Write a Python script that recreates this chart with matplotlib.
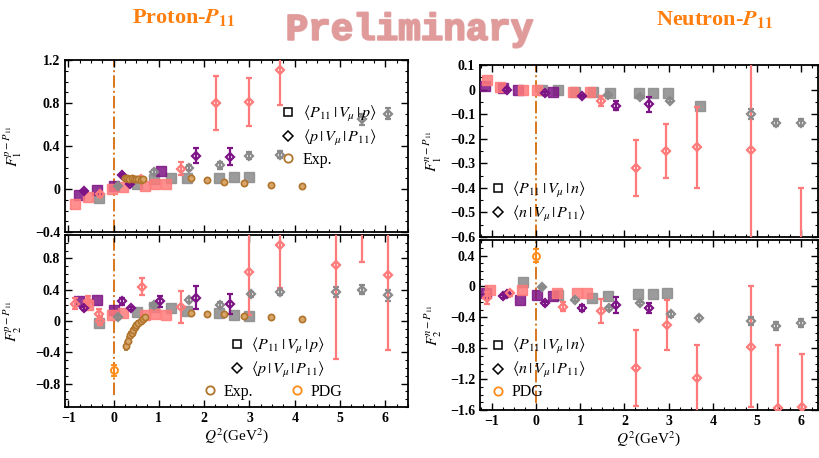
import numpy as np
import matplotlib as mpl
mpl.use('Agg')
import matplotlib.pyplot as plt
from matplotlib.lines import Line2D
from matplotlib.ticker import MultipleLocator
import matplotlib.patheffects as pe

plt.rcParams['font.family'] = ['Liberation Serif', 'DejaVu Serif']
plt.rcParams['mathtext.fontset'] = 'stix'

# ---------------- proton F1 ----------------
pf1_gray_sq_x = [-0.31, 0.52, 0.89, 1.26, 1.63, 2.33, 2.67, 3.0]
pf1_gray_sq_y = [-0.08, 0.05, 0.09, 0.10, 0.10, 0.10, 0.11, 0.11]
pf1_gray_di_x = [0.11, 0.89, 1.67, 2.36, 3.0, 3.67, 5.48, 6.06]
pf1_gray_di_y = [0.03, 0.16, 0.20, 0.22, 0.31, 0.32, 0.65, 0.70]
pf1_gray_di_e = [0.01, 0.02, 0.02, 0.03, 0.03, 0.03, 0.05, 0.05]
pf1_purp_sq_x = [-0.77, -0.37, 0.0, 1.04]
pf1_purp_sq_y = [-0.06, -0.01, 0.03, 0.17]
pf1_purp_di_x = [-0.66, 0.18, 0.37, 1.81, 2.58]
pf1_purp_di_y = [-0.02, 0.13, 0.05, 0.31, 0.30]
pf1_purp_di_e = [0.01, 0.01, 0.01, 0.07, 0.08]
pf1_pink_sq_x = [-0.85, -0.56, -0.03, 0.22, 0.70, 0.92, 1.15]
pf1_pink_sq_y = [-0.14, -0.07, 0.0, 0.02, 0.03, 0.05, 0.05]
pf1_pink_di_x = [-0.29, 0.6, 1.49, 2.27, 2.99, 3.68]
pf1_pink_di_y = [-0.05, 0.09, 0.19, 0.80, 0.81, 1.11]
pf1_pink_di_e = [0.02, 0.02, 0.06, 0.25, 0.22, 0.33]
pf1_exp_x = [0.25, 0.3, 0.35, 0.4, 0.45, 0.5, 0.55, 0.6, 0.65, 1.7, 2.06, 2.43, 2.89, 3.47, 4.15]
pf1_exp_y = [0.1, 0.1, 0.095, 0.1, 0.09, 0.095, 0.09, 0.085, 0.09, 0.1, 0.085, 0.07, 0.055, 0.04, 0.03]

# ---------------- proton F2 ----------------
pf2_gray_sq_x = [-0.31, 0.52, 0.89, 1.26, 1.63, 2.33, 2.67, 3.0]
pf2_gray_sq_y = [-0.02, 0.12, 0.18, 0.16, 0.13, 0.10, 0.08, 0.07]
pf2_gray_di_x = [0.11, 0.89, 1.67, 2.36, 3.03, 3.67, 4.92, 5.48, 6.06]
pf2_gray_di_y = [0.05, 0.20, 0.27, 0.21, 0.34, 0.37, 0.37, 0.40, 0.33]
pf2_gray_di_e = [0.02, 0.02, 0.03, 0.03, 0.03, 0.04, 0.06, 0.06, 0.07]
pf2_purp_sq_x = [-0.77, -0.37, 0.0]
pf2_purp_sq_y = [0.25, 0.27, 0.14]
pf2_purp_di_x = [-0.66, 0.18, 0.38, 1.02, 1.81, 2.58]
pf2_purp_di_y = [0.16, 0.25, 0.16, 0.25, 0.30, 0.22]
pf2_purp_di_e = [0.02, 0.04, 0.02, 0.07, 0.15, 0.13]
pf2_pink_sq_x = [-0.56, -0.03, 0.22, 0.70, 0.92, 1.15]
pf2_pink_sq_y = [0.20, 0.08, 0.10, 0.08, 0.09, 0.08]
pf2_pink_di_x = [-0.85, -0.56, -0.33, -0.29, 0.62, 1.49, 3.0, 3.68, 4.92, 5.48, 6.06]
pf2_pink_di_y = [0.22, 0.25, 0.09, 0.0, 0.44, 0.18, 0.63, 0.97, 0.71, 1.35, 0.59]
pf2_pink_di_e = [0.07, 0.07, 0.06, 0.05, 0.11, 0.20, 0.55, 0.55, 1.19, 0.60, 0.96]
pf2_exp_x = [0.28, 0.33, 0.37, 0.4, 0.43, 0.47, 0.5, 0.55, 0.6, 0.65, 0.7, 1.7, 2.06, 2.43, 2.89, 3.47, 4.15]
pf2_exp_y = [-0.32, -0.26, -0.18, -0.15, -0.12, -0.08, -0.05, -0.02, 0.0, 0.03, 0.05, 0.1, 0.09, 0.085, 0.06, 0.045, 0.03]
pf2_exp_e = [0.05, 0.05, 0.04, 0.04, 0.03, 0.03, 0.03, 0.02, 0.02, 0.02, 0.02, 0.01, 0.01, 0.01, 0.01, 0.01, 0.01]
pf2_pdg_x = [0.0]
pf2_pdg_y = [-0.63]
pf2_pdg_e = [0.07]

# ---------------- neutron F1 ----------------
nf1_gray_sq_x = [0.13, 0.5, 0.88, 1.3, 1.67, 2.33, 2.65, 2.99, 3.7]
nf1_gray_sq_y = [0.0, 0.0, -0.01, -0.01, -0.015, -0.015, -0.015, -0.015, -0.065]
nf1_gray_di_x = [1.63, 2.35, 3.03, 4.87, 5.44, 6.0]
nf1_gray_di_y = [-0.02, -0.03, -0.045, -0.10, -0.135, -0.135]
nf1_gray_di_e = [0.005, 0.005, 0.005, 0.02, 0.015, 0.015]
nf1_purp_sq_x = [-1.15, -0.74, -0.4, 0.39]
nf1_purp_sq_y = [0.015, 0.005, 0.0, -0.01]
nf1_purp_di_x = [-0.66, 0.2, 1.03, 1.81, 2.56]
nf1_purp_di_y = [0.0, -0.015, -0.025, -0.065, -0.06]
nf1_purp_di_e = [0.005, 0.005, 0.005, 0.02, 0.03]
nf1_pink_sq_x = [-1.11, -0.81, -0.29, 0.02, 0.84, 1.22]
nf1_pink_sq_y = [0.04, 0.01, 0.0, 0.0, -0.01, -0.01]
nf1_pink_di_x = [1.48, 2.26, 2.95, 3.64, 4.87, 6.0]
nf1_pink_di_y = [-0.045, -0.32, -0.25, -0.235, -0.245, -0.75]
nf1_pink_di_e = [0.02, 0.115, 0.11, 0.165, 0.45, 0.35]

# ---------------- neutron F2 ----------------
nf2_gray_sq_x = [-0.29, 0.5, 1.26, 1.63, 2.31, 2.65, 2.97]
nf2_gray_sq_y = [0.06, -0.11, -0.15, -0.13, -0.10, -0.10, -0.09]
nf2_gray_di_x = [0.13, 0.88, 1.66, 2.35, 3.06, 3.69, 4.87, 5.44, 6.0]
nf2_gray_di_y = [-0.01, -0.17, -0.28, -0.22, -0.36, -0.41, -0.45, -0.51, -0.47]
nf2_gray_di_e = [0.01, 0.02, 0.02, 0.02, 0.03, 0.03, 0.05, 0.05, 0.05]
nf2_purp_sq_x = [-1.13, -0.36, 0.02, 0.39]
nf2_purp_sq_y = [-0.09, -0.17, -0.11, -0.13]
nf2_purp_di_x = [-0.75, -0.66, 0.2, 1.03, 1.82, 2.56]
nf2_purp_di_y = [-0.13, -0.10, -0.22, -0.28, -0.24, -0.28]
nf2_purp_di_e = [0.02, 0.02, 0.02, 0.04, 0.10, 0.07]
nf2_pink_sq_x = [-1.04, -0.32, 0.47, 0.92, 1.15]
nf2_pink_sq_y = [-0.04, -0.04, -0.09, -0.09, -0.09]
nf2_pink_di_x = [-1.11, -0.59, 0.62, 1.48, 2.26, 2.97, 3.64, 4.87, 5.47, 6.02]
nf2_pink_di_y = [-0.15, -0.09, -0.26, -0.32, -1.06, -0.50, -1.19, -0.78, -1.58, -1.56]
nf2_pink_di_e = [0.08, 0.03, 0.06, 0.16, 0.49, 0.32, 0.43, 0.78, 0.82, 0.68]
nf2_pdg_x = [0.0]
nf2_pdg_y = [0.40]
nf2_pdg_e = [0.08]

GRAY = '#8a8a8a'
PURP = '#7d1485'
PINK = '#ff7a7a'
BROWN = '#b0742c'
ORANGE = '#ff8c1a'
VLINE = '#d8761a'


def squares(ax, x, y, c):
    ax.plot(x, y, 's', ms=6.5, color=c, mec=c, alpha=0.85, zorder=3)


def diamonds(ax, x, y, e, c):
    ax.errorbar(x, y, yerr=e, fmt='D', ms=4.5, mfc='none', mec=c, mew=1.6,
                ecolor=c, elinewidth=1.6, capsize=2.5, capthick=1.4, zorder=4)


def style(ax, xlim, ylim, ymaj, ymin, xlabels):
    ax.set_xlim(*xlim)
    ax.set_ylim(*ylim)
    ax.xaxis.set_major_locator(MultipleLocator(1))
    ax.xaxis.set_minor_locator(MultipleLocator(0.25))
    ax.yaxis.set_major_locator(MultipleLocator(ymaj))
    ax.yaxis.set_minor_locator(MultipleLocator(ymin))
    ax.tick_params(which='both', direction='in', top=True, right=True, labelsize=10)
    ax.tick_params(which='major', length=5, width=1.0)
    ax.tick_params(which='minor', length=2.5, width=0.8)
    for s in ax.spines.values():
        s.set_linewidth(1.3)
    for lab in ax.get_yticklabels() + ax.get_xticklabels():
        lab.set_fontweight('bold')
    if not xlabels:
        ax.tick_params(labelbottom=False)
    else:
        ax.set_xlabel(r'$Q^2$(GeV$^2$)', fontsize=11, labelpad=1)
    ax.yaxis.set_major_formatter(mpl.ticker.FuncFormatter(
        lambda v, p: '0' if abs(v) < 1e-9 else ('%g' % v).replace('-', '\u2212')))


fig = plt.figure(figsize=(8.19, 4.58), dpi=100)
ax1 = fig.add_axes([0.0794, 0.4934, 0.4188, 0.3755])
ax2 = fig.add_axes([0.0794, 0.1114, 0.4188, 0.3755])
ax3 = fig.add_axes([0.586, 0.4825, 0.4127, 0.3755])
ax4 = fig.add_axes([0.586, 0.1048, 0.4127, 0.371])

# proton F1
ax1.axvline(0, color=VLINE, ls='-.', lw=1.4, zorder=1)
squares(ax1, pf1_gray_sq_x, pf1_gray_sq_y, GRAY)
squares(ax1, pf1_purp_sq_x, pf1_purp_sq_y, PURP)
squares(ax1, pf1_pink_sq_x, pf1_pink_sq_y, PINK)
diamonds(ax1, pf1_gray_di_x, pf1_gray_di_y, pf1_gray_di_e, GRAY)
diamonds(ax1, pf1_purp_di_x, pf1_purp_di_y, pf1_purp_di_e, PURP)
diamonds(ax1, pf1_pink_di_x, pf1_pink_di_y, pf1_pink_di_e, PINK)
ax1.plot(pf1_exp_x, pf1_exp_y, 'o', ms=4.5, mfc='#d9a66a', mec=BROWN, mew=1.2, zorder=5)
style(ax1, (-1.07, 6.5), (-0.4, 1.2), 0.4, 0.1, False)
ax1.set_ylabel(r'$F_1^{p-P_{11}}$', fontsize=11)
ax1.yaxis.set_label_coords(-0.12, 0.5)

# proton F2
ax2.axvline(0, color=VLINE, ls='-.', lw=1.4, ymin=0.07, zorder=1)
squares(ax2, pf2_gray_sq_x, pf2_gray_sq_y, GRAY)
squares(ax2, pf2_purp_sq_x, pf2_purp_sq_y, PURP)
squares(ax2, pf2_pink_sq_x, pf2_pink_sq_y, PINK)
diamonds(ax2, pf2_gray_di_x, pf2_gray_di_y, pf2_gray_di_e, GRAY)
diamonds(ax2, pf2_purp_di_x, pf2_purp_di_y, pf2_purp_di_e, PURP)
diamonds(ax2, pf2_pink_di_x, pf2_pink_di_y, pf2_pink_di_e, PINK)
ax2.errorbar(pf2_exp_x, pf2_exp_y, yerr=pf2_exp_e, fmt='o', ms=4.5, mfc='#d9a66a', mec=BROWN,
             mew=1.2, ecolor=BROWN, elinewidth=1, capsize=1.5, zorder=5)
ax2.errorbar(pf2_pdg_x, pf2_pdg_y, yerr=pf2_pdg_e, fmt='o', ms=5, mfc='none', mec=ORANGE,
             mew=1.4, ecolor=ORANGE, elinewidth=1.4, capsize=2.5, zorder=6)
style(ax2, (-1.07, 6.5), (-1.1, 1.1), 0.4, 0.1, True)
ax2.set_ylabel(r'$F_2^{p-P_{11}}$', fontsize=11)
ax2.yaxis.set_label_coords(-0.12, 0.5)

# neutron F1
ax3.axvline(0, color=VLINE, ls='-.', lw=1.4, zorder=1)
squares(ax3, nf1_gray_sq_x, nf1_gray_sq_y, GRAY)
squares(ax3, nf1_purp_sq_x, nf1_purp_sq_y, PURP)
squares(ax3, nf1_pink_sq_x, nf1_pink_sq_y, PINK)
diamonds(ax3, nf1_gray_di_x, nf1_gray_di_y, nf1_gray_di_e, GRAY)
diamonds(ax3, nf1_purp_di_x, nf1_purp_di_y, nf1_purp_di_e, PURP)
diamonds(ax3, nf1_pink_di_x, nf1_pink_di_y, nf1_pink_di_e, PINK)
style(ax3, (-1.27, 6.38), (-0.6, 0.1), 0.1, 0.05, False)
ax3.set_ylabel(r'$F_1^{n-P_{11}}$', fontsize=11)
ax3.yaxis.set_label_coords(-0.105, 0.5)

# neutron F2
ax4.axvline(0, color=VLINE, ls='-.', lw=1.4, ymin=0.04, zorder=1)
squares(ax4, nf2_gray_sq_x, nf2_gray_sq_y, GRAY)
squares(ax4, nf2_purp_sq_x, nf2_purp_sq_y, PURP)
squares(ax4, nf2_pink_sq_x, nf2_pink_sq_y, PINK)
diamonds(ax4, nf2_gray_di_x, nf2_gray_di_y, nf2_gray_di_e, GRAY)
diamonds(ax4, nf2_purp_di_x, nf2_purp_di_y, nf2_purp_di_e, PURP)
diamonds(ax4, nf2_pink_di_x, nf2_pink_di_y, nf2_pink_di_e, PINK)
ax4.errorbar(nf2_pdg_x, nf2_pdg_y, yerr=nf2_pdg_e, fmt='o', ms=5, mfc='none', mec=ORANGE,
             mew=1.4, ecolor=ORANGE, elinewidth=1.4, capsize=2.5, zorder=6)
style(ax4, (-1.27, 6.38), (-1.6, 0.6), 0.4, 0.1, True)
ax4.set_ylabel(r'$F_2^{n-P_{11}}$', fontsize=11)
ax4.yaxis.set_label_coords(-0.105, 0.5)

# legends
sq = Line2D([], [], ls='none', marker='s', ms=5.5, mfc='none', mec='k', mew=1.1)
di = Line2D([], [], ls='none', marker='D', ms=5, mfc='none', mec='k', mew=1.1)
ex = Line2D([], [], ls='none', marker='o', ms=6, mfc='none', mec=BROWN, mew=1.3)
pd = Line2D([], [], ls='none', marker='o', ms=6, mfc='none', mec=ORANGE, mew=1.3)
lkw = dict(frameon=False, fontsize=11.5, handletextpad=0.4, labelspacing=0.25,
           handlelength=1.0, borderaxespad=0.2)

ax1.legend([sq, di, ex],
           [r'$\langle P_{11}\,|\,V_\mu\,|\,p\rangle$', r'$\langle p\,|\,V_\mu\,|\,P_{11}\rangle$', 'Exp.'],
           loc='upper left', bbox_to_anchor=(0.6, 0.8), **lkw)
leg2 = ax2.legend([ex, pd], ['Exp.', 'PDG'], loc='upper left', bbox_to_anchor=(0.37, 0.19),
                  ncol=2, columnspacing=2.2, **lkw)
ax2.add_artist(leg2)
ax2.legend([sq, di],
           [r'$\langle P_{11}\,|\,V_\mu\,|\,p\rangle$', r'$\langle p\,|\,V_\mu\,|\,P_{11}\rangle$'],
           loc='upper left', bbox_to_anchor=(0.45, 0.47), **lkw)
ax3.legend([sq, di],
           [r'$\langle P_{11}\,|\,V_\mu\,|\,n\rangle$', r'$\langle n\,|\,V_\mu\,|\,P_{11}\rangle$'],
           loc='lower left', bbox_to_anchor=(0.0, 0.02), **lkw)
ax4.legend([sq, di, pd],
           [r'$\langle P_{11}\,|\,V_\mu\,|\,n\rangle$', r'$\langle n\,|\,V_\mu\,|\,P_{11}\rangle$', 'PDG'],
           loc='lower left', bbox_to_anchor=(0.0, 0.0), **lkw)

# titles
fig.text(0.224, 0.962, r'Proton-$\boldsymbol{P}_{\mathbf{11}}$', color='#ff7f0e', fontsize=16,
         fontweight='bold', ha='center', va='center')
fig.text(0.872, 0.958, r'Neutron-$\boldsymbol{P}_{\mathbf{11}}$', color='#ff7f0e', fontsize=16,
         fontweight='bold', ha='center', va='center')
fig.text(0.5, 0.935, 'Preliminary', color='#e09a9a', fontsize=27, fontweight='bold',
         family='Liberation Mono', ha='center', va='center', alpha=0.9,
         path_effects=[pe.withStroke(linewidth=1.5, foreground='#e09a9a')])

fig.savefig('out.png', dpi=100)
